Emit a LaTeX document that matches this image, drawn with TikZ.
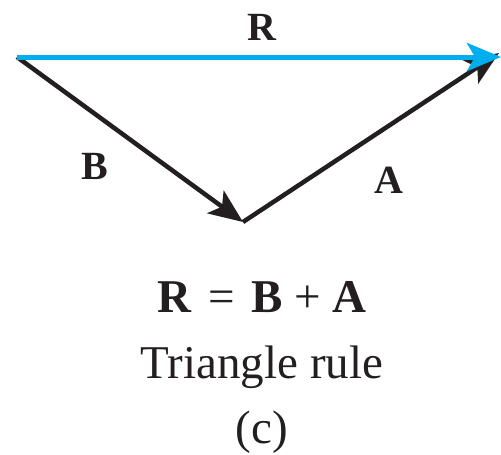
\documentclass[tikz,border=0pt]{standalone}
\usepackage{fontspec}
\setmainfont{Liberation Serif}
\usetikzlibrary{arrows.meta}
\definecolor{vecblue}{RGB}{0,174,239}
\definecolor{vecblack}{RGB}{35,31,32}
\tikzset{
  vec/.style={line width=4.5pt, vecblack, -{Stealth[length=34pt,width=28pt,inset=8pt]}},
  bvec/.style={line width=5pt, vecblue, -{Stealth[length=34pt,width=28pt,inset=8pt]}},
  lbl/.style={font=\fontsize{40}{48}\selectfont\bfseries, text=vecblack, inner sep=0pt},
  captext/.style={font=\fontsize{47}{56}\selectfont, text=vecblack, inner sep=0pt}
}
\begin{document}
\begin{tikzpicture}[x=1pt,y=-1pt]
\useasboundingbox (0,0) rectangle (501,455);
\coordinate (O) at (17,57);
\coordinate (M) at (243,222);
\coordinate (E) at (501,57);
\coordinate (Ae) at (499,53);
\draw[vec] (O) -- (M);
\draw[vec] (M) -- (Ae);
\draw[bvec] (O) -- (E);
\node[lbl] (lR) at (262,27) {R};
\node[lbl] (lB) at (95,166) {B};
\node[lbl] (lA) at (389,180) {A};
\node[captext] (eq) at (262,297) {\textbf{R}\hspace{0.35em}=\hspace{0.35em}\textbf{B}\hspace{0.25em}+\hspace{0.25em}\textbf{A}};
\node[captext] (tr) at (262,367) {Triangle rule};
\node[captext] (c) at (262,432) {(c)};
\end{tikzpicture}
\end{document}
